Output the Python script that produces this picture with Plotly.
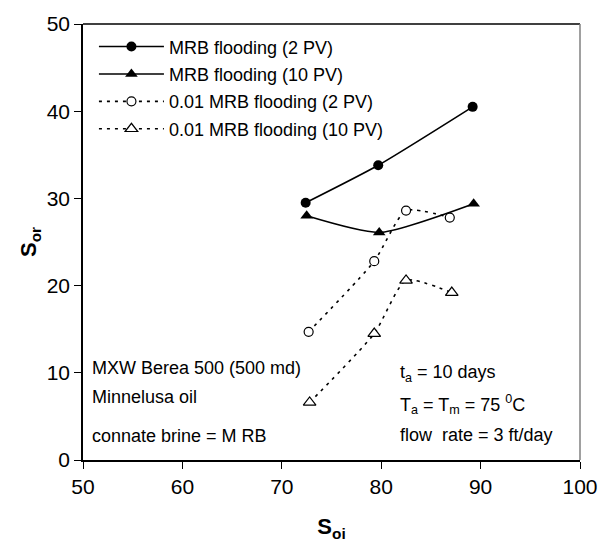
import plotly.graph_objects as go

soi_mrb2 = [72.4, 79.7, 89.2]
sor_mrb2 = [29.5, 33.8, 40.5]
soi_mrb10 = [72.5, 79.8, 89.3]
sor_mrb10 = [28.0, 26.1, 29.4]
soi_d2 = [72.7, 79.3, 82.5, 86.9]
sor_d2 = [14.7, 22.8, 28.6, 27.8]
soi_d10 = [72.8, 79.3, 82.5, 87.1]
sor_d10 = [6.6, 14.5, 20.6, 19.2]

names = ["MRB flooding (2 PV)", "MRB flooding (10 PV)",
         "0.01 MRB flooding (2 PV)", "0.01 MRB flooding (10 PV)"]

FONT = "Liberation Sans"

fig = go.Figure()
fig.add_trace(go.Scatter(x=soi_mrb2, y=sor_mrb2, name=names[0], mode="lines+markers", legendgroup="a",
                         line=dict(color="black", width=1.6, shape="spline", smoothing=0.6),
                         marker=dict(symbol="circle", size=10, color="black")))
fig.add_trace(go.Scatter(x=soi_mrb10, y=sor_mrb10, name=names[1], mode="lines+markers", legendgroup="b",
                         line=dict(color="black", width=1.6, shape="spline", smoothing=0.6),
                         marker=dict(symbol="triangle-up", size=11, color="black")))
fig.add_trace(go.Scatter(x=soi_d2, y=sor_d2, name=names[2], mode="lines+markers", legendgroup="c",
                         line=dict(color="black", width=1.6, dash="3px,5px", shape="spline", smoothing=0.6),
                         marker=dict(symbol="circle", size=9, color="white",
                                     line=dict(width=1.2, color="black"))))
fig.add_trace(go.Scatter(x=soi_d10, y=sor_d10, name=names[3], mode="lines+markers", legendgroup="d",
                         line=dict(color="black", width=1.6, dash="3px,5px", shape="spline", smoothing=0.6),
                         marker=dict(symbol="triangle-up", size=11, color="white",
                                     line=dict(width=1.2, color="black"))))

fig.update_layout(
    width=610, height=550,
    margin=dict(l=83, r=21, t=20, b=90),
    paper_bgcolor="white", plot_bgcolor="white",
    font=dict(family=FONT, size=17, color="black"),
    showlegend=True,
    legend=dict(x=0.022, y=0.99, xanchor="left", yanchor="top", tracegroupgap=1,
                bgcolor="rgba(0,0,0,0)", font=dict(family=FONT, size=18), itemwidth=65),
    xaxis=dict(range=[50, 100], dtick=10, showgrid=False, zeroline=False,
               showline=True, linecolor="black", linewidth=1.5,
               ticks="outside", ticklen=7, tickcolor="black",
               tickfont=dict(family=FONT, size=21),
               title=dict(text="<b>S<sub>oi</sub></b>", font=dict(family=FONT, size=22), standoff=22)),
    yaxis=dict(range=[0, 50], dtick=10, showgrid=False, zeroline=False,
               showline=True, linecolor="black", linewidth=1.5,
               ticks="outside", ticklen=7, tickcolor="black",
               tickfont=dict(family=FONT, size=21),
               title=dict(text="<b>S<sub>or</sub></b>", font=dict(family=FONT, size=22), standoff=4)),
)

fig.add_shape(type="line", xref="paper", yref="paper", x0=0, x1=1, y0=1, y1=1,
              line=dict(color="black", width=1.5))
fig.add_shape(type="line", xref="paper", yref="paper", x0=1, x1=1, y0=0, y1=1,
              line=dict(color="#808080", width=1.5))

left_notes = [("MXW Berea 500 (500 md)", 0.210), ("Minnelusa oil", 0.145), ("connate brine = M RB", 0.055)]
for t, yy in left_notes:
    fig.add_annotation(text=t, xref="paper", yref="paper", x=0.014, y=yy,
                       xanchor="left", yanchor="middle", showarrow=False,
                       font=dict(family=FONT, size=18))
right_notes = [("t<sub>a</sub> = 10 days", 0.198), ("T<sub>a</sub> = T<sub>m</sub> = 75 <sup>0</sup>C", 0.128),
               ("flow  rate = 3 ft/day", 0.058)]
for t, yy in right_notes:
    fig.add_annotation(text=t, xref="paper", yref="paper", x=0.634, y=yy,
                       xanchor="left", yanchor="middle", showarrow=False,
                       font=dict(family=FONT, size=18))

fig.write_html("out.html")
